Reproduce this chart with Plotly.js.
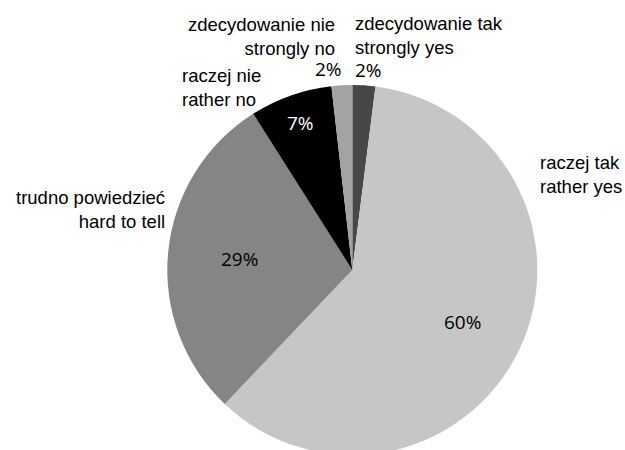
<!DOCTYPE html>
<html>
<head>
<meta charset="utf-8">
<script src="https://cdn.plot.ly/plotly-3.0.1.min.js"></script>
<style>
html,body{margin:0;padding:0;overflow:hidden;background:#fff;}
#chart{width:625px;height:455px;}
</style>
</head>
<body>
<div id="chart"></div>
<script>
// Data
const categoriesPl = ['zdecydowanie tak', 'raczej tak', 'trudno powiedzieć', 'raczej nie', 'zdecydowanie nie'];
const categoriesEn = ['strongly yes', 'rather yes', 'hard to tell', 'rather no', 'strongly no'];
const values = [2.0, 60.1, 28.9, 7.2, 1.8];

// Styles
const colors = ['#474747', '#c6c6c6', '#858585', '#000000', '#a3a3a3'];
const pctColors = ['#000', '#000', '#000', '#fff', '#000'];
const pctRadius = [1.1, 0.66, 0.61, 0.84, 1.1];
const pctXShift = [3, 0, 0, 0, -12];
const pctYShift = [-3, 0, 0, 0, -2];

const W = 625, H = 455;
const cx = 352.3, cy = 270, R = 185;

// category label placement (layout, pixels)
const catLabelPos = [
  {x: 352.7, y: 35.5, anchor: 'left'},
  {x: 538, y: 174.5, anchor: 'left'},
  {x: 166.7, y: 209, anchor: 'right'},
  {x: 180, y: 87.5, anchor: 'left'},
  {x: 336.7, y: 36, anchor: 'right'}
];

const total = values.reduce((a, b) => a + b, 0);
const annotations = [];
let cum = 0;
values.forEach((v, i) => {
  const mid = (cum + v / 2) / total * 2 * Math.PI;
  cum += v;
  const px = cx + pctRadius[i] * R * Math.sin(mid);
  const py = cy - pctRadius[i] * R * Math.cos(mid);
  annotations.push({
    xref: 'paper', yref: 'paper', x: px / W, y: (H - py) / H,
    xanchor: 'center', yanchor: 'middle', xshift: pctXShift[i], yshift: pctYShift[i],
    text: Math.round(v / total * 100) + '%', showarrow: false,
    font: {family: 'Open Sans, sans-serif', size: 19, color: pctColors[i]}
  });
  const lp = catLabelPos[i];
  annotations.push({
    xref: 'paper', yref: 'paper', x: lp.x / W, y: (H - lp.y) / H,
    xanchor: lp.anchor, yanchor: 'middle', align: lp.anchor,
    text: categoriesPl[i] + '<br>' + categoriesEn[i], showarrow: false,
    font: {family: 'Liberation Sans, Arial, sans-serif', size: 18.5, color: '#000'}
  });
});

const trace = {
  type: 'pie',
  labels: categoriesEn,
  values: values,
  sort: false,
  direction: 'clockwise',
  rotation: 0,
  marker: {colors: colors, line: {width: 0}},
  textinfo: 'none',
  hoverinfo: 'skip',
  showlegend: false,
  domain: {x: [(cx - R) / W, (cx + R) / W], y: [0, (H - (cy - R)) / H]}
};

Plotly.newPlot('chart', [trace], {
  width: W, height: H,
  margin: {l: 0, r: 0, t: 0, b: 0},
  paper_bgcolor: '#fff',
  showlegend: false,
  annotations: annotations
}, {staticPlot: true});
</script>
</body>
</html>
